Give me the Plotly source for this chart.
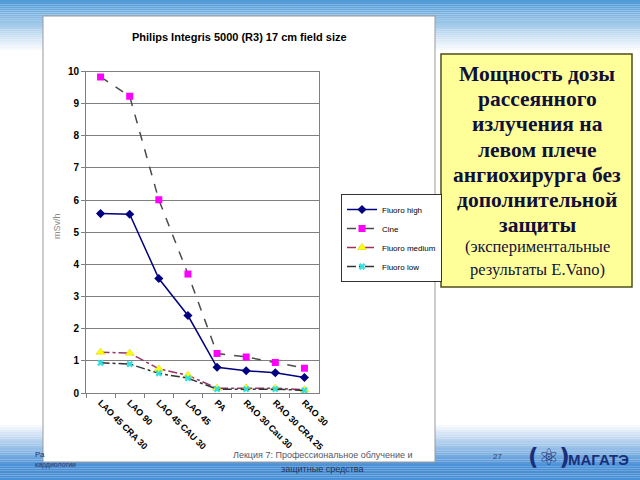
import plotly.graph_objects as go

categories = ["LAO 45 CRA 30", "LAO 90", "LAO 45 CAU 30", "LAO 45", "PA",
              "RAO 30 Cau 30", "RAO 30 CRA 25", "RAO 30"]
fluoro_high = [5.58, 5.56, 3.56, 2.41, 0.80, 0.69, 0.63, 0.48]
cine = [9.83, 9.23, 6.01, 3.70, 1.23, 1.12, 0.95, 0.77]
fluoro_medium = [1.27, 1.24, 0.75, 0.55, 0.15, 0.16, 0.15, 0.10]
fluoro_low = [0.94, 0.90, 0.61, 0.46, 0.12, 0.12, 0.12, 0.08]
y_ticks = list(range(0, 11))

W, H = 640, 480
def px(x):
    return x / W
def py(y):
    return 1 - y / H

fig = go.Figure()

fig.add_trace(go.Scatter(x=categories, y=fluoro_high, name="Fluoro high", mode="lines+markers",
                         line=dict(color="#000080", width=1.5),
                         marker=dict(symbol="diamond", size=7, color="#000080")))
fig.add_trace(go.Scatter(x=categories, y=cine, name="Cine", mode="lines+markers",
                         line=dict(color="#4a4a4a", width=1.5, dash="dash"),
                         marker=dict(symbol="square", size=7, color="#FF00FF")))
fig.add_trace(go.Scatter(x=categories, y=fluoro_medium, name="Fluoro medium", mode="lines+markers",
                         line=dict(color="#993366", width=1.5, dash="dashdot"),
                         marker=dict(symbol="triangle-up", size=8, color="#FFFF00",
                                     line=dict(color="#CCCC00", width=0.5))))
fig.add_trace(go.Scatter(x=categories, y=fluoro_low, name="Fluoro low", mode="lines+markers",
                         line=dict(color="#333333", width=1.5, dash="dashdot"),
                         marker=dict(symbol="x", size=6, color="#33E0E0")))

shapes = []
# top gradient
top_c0 = (80, 154, 216)
n = 24
for i in range(n):
    t = i / n
    c = tuple(int(top_c0[k] + (255 - top_c0[k]) * t) for k in range(3))
    y0 = 50 * i / n
    y1 = 50 * (i + 1) / n
    shapes.append(dict(type="rect", xref="paper", yref="paper", x0=0, x1=1,
                       y0=py(y1), y1=py(y0), fillcolor="rgb(%d,%d,%d)" % c,
                       line=dict(width=0), layer="below"))
# bottom gradient
bot_c = (74, 144, 214)
for i in range(n):
    t = (i + 1) / n
    c = tuple(int(255 + (bot_c[k] - 255) * min(1, t * 1.3)) for k in range(3))
    y0 = 425 + 55 * i / n
    y1 = 425 + 55 * (i + 1) / n
    shapes.append(dict(type="rect", xref="paper", yref="paper", x0=0, x1=1,
                       y0=py(y1), y1=py(y0), fillcolor="rgb(%d,%d,%d)" % c,
                       line=dict(width=0), layer="below"))
# chart white box
shapes.append(dict(type="rect", xref="paper", yref="paper", x0=px(43), x1=px(435),
                   y0=py(462), y1=py(16), fillcolor="white",
                   line=dict(color="#9a9a9a", width=1), layer="below"))
# yellow text box
shapes.append(dict(type="rect", xref="paper", yref="paper", x0=px(441), x1=px(632),
                   y0=py(287), y1=py(54), fillcolor="#FFFF99",
                   line=dict(color="#4d4d1a", width=1.5), layer="below"))

def ann(text, x, y, size, color, family="Liberation Sans", xanchor="center", angle=0):
    return dict(text=text, x=px(x), y=py(y), xref="paper", yref="paper", showarrow=False,
                xanchor=xanchor, yanchor="middle", textangle=angle,
                font=dict(family=family, size=size, color=color))

annotations = []
annotations.append(ann("<b>Philips Integris 5000 (R3) 17 cm field size</b>", 239, 37, 11, "black"))
annotations.append(ann("mSv/h", 57, 226, 9, "#8a8a8a", angle=-90))
bold_lines = ["Мощность дозы", "рассеянного", "излучения на", "левом плече",
              "ангиохирурга без", "дополнительной", "защиты"]
for i, s in enumerate(bold_lines):
    annotations.append(ann("<b>%s</b>" % s, 537, 74 + 25.2 * i, 21.5, "#10103a",
                           family="Liberation Serif"))
for i, s in enumerate(["(экспериментальные", "результаты E.Vano)"]):
    annotations.append(ann(s, 537, 247 + 22 * i, 16.5, "#10103a", family="Liberation Serif"))
annotations.append(ann("Лекция 7: Профессиональное облучение и", 322, 455, 9, "#555566"))
annotations.append(ann("защитные средства", 322, 469, 9, "#223355"))
annotations.append(ann("27", 497, 456, 8, "#334466"))
annotations.append(ann("Ра", 33, 454, 8, "#223377", xanchor="left"))
annotations.append(ann("кардиологии", 33, 465, 7, "#223377", xanchor="left"))
annotations.append(ann("<b>(⚛)</b>", 549, 457, 23, "#1a2f7a", family="DejaVu Sans"))
annotations.append(ann("<b>МАГАТЭ</b>", 598, 459, 15, "#1a2f7a"))

fig.update_layout(
    width=W, height=H,
    margin=dict(l=0, r=0, t=0, b=0),
    paper_bgcolor="white",
    plot_bgcolor="#C0C0C0",
    shapes=shapes,
    annotations=annotations,
    showlegend=True,
    legend=dict(x=px(341), y=py(194), xanchor="left", yanchor="top",
                bgcolor="white", bordercolor="#333333", borderwidth=1,
                font=dict(family="Liberation Sans", size=8, color="black"),
                tracegroupgap=0, itemwidth=30),
    xaxis=dict(domain=[px(86), px(319)], type="category", range=[-0.5, 7.5],
               automargin=False,
               showgrid=False, showline=True, linecolor="#808080", mirror=True,
               ticks="outside", tickson="boundaries", ticklen=4, tickcolor="#808080",
               tickangle=45,
               tickfont=dict(family="Liberation Sans", size=9, color="black", weight="bold")),
    yaxis=dict(domain=[py(393), py(71.5)], range=[0, 10], tickvals=y_ticks,
               automargin=False,
               showgrid=True, gridcolor="#808080", gridwidth=1,
               showline=True, linecolor="#808080", mirror=True,
               ticks="outside", ticklen=4, tickcolor="#808080",
               tickfont=dict(family="Liberation Sans", size=10, color="black", weight="bold"),
               zeroline=False),
)

fig.write_html("out.html", config={"displayModeBar": False},
               post_script="document.body.style.margin='0px';")
